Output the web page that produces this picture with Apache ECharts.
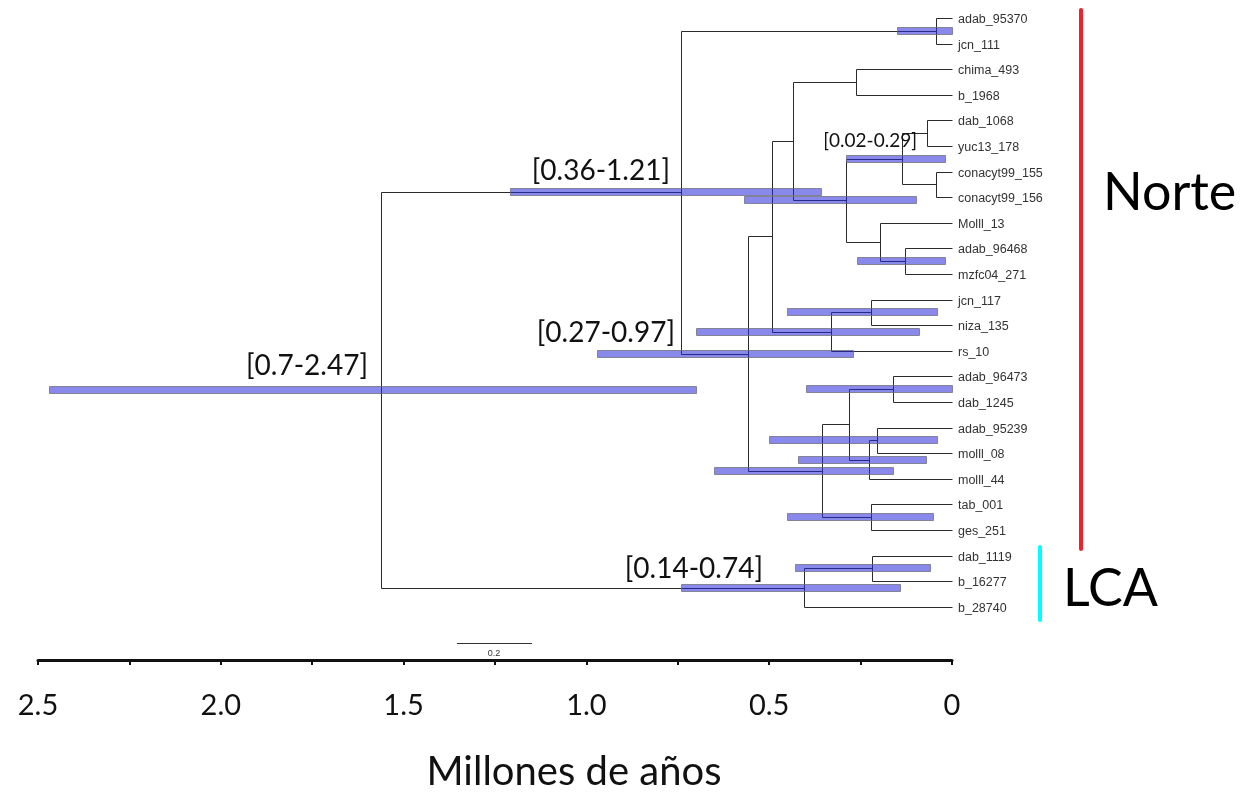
<!DOCTYPE html>
<html><head><meta charset="utf-8">
<script src="https://cdn.jsdelivr.net/npm/echarts@6/dist/echarts.min.js"></script>
<style>html,body{margin:0;padding:0;background:#fff}#c{width:1246px;height:793px}</style>
</head><body><div id="c"></div>
<script>
// ---- DATA ----
const tipNames = ['adab_95370','jcn_111','chima_493','b_1968','dab_1068','yuc13_178','conacyt99_155','conacyt99_156','Molll_13','adab_96468','mzfc04_271','jcn_117','niza_135','rs_10','adab_96473','dab_1245','adab_95239','molll_08','molll_44','tab_001','ges_251','dab_1119','b_16277','b_28740'];
// internal nodes: id, first child, second child, age (millions of years)
const nodeIds    = ['root','nB','nA','nC','nD','nH','nI','nJ','nK','nM','nN','nL','nO','nF','nG','nE','nP','nR','nS','nT','nQ','nU','nV'];
const nodeChild1 = ['nB','nA','adab_95370','nD','nH','nI','chima_493','nK','nM','dab_1068','conacyt99_155','Molll_13','adab_96468','nG','jcn_117','nP','nR','adab_96473','nT','adab_95239','tab_001','nV','dab_1119'];
const nodeChild2 = ['nU','nC','jcn_111','nE','nF','nJ','b_1968','nL','nN','yuc13_178','conacyt99_156','nO','mzfc04_271','rs_10','niza_135','nQ','nS','dab_1245','molll_44','molll_08','ges_251','b_28740','b_16277'];
const nodeAges   = [1.562,0.741,0.045,0.558,0.492,0.435,0.263,0.290,0.137,0.069,0.045,0.197,0.129,0.331,0.222,0.356,0.282,0.161,0.227,0.205,0.222,0.405,0.219];
// 95% HPD intervals
const hpdNodes = ['root','nB','nC','nK','nU','nA','nJ','nO','nG','nF','nR','nT','nS','nE','nQ','nV'];
const hpdLow   = [0.7, 0.36,0.27,0.02,0.14,0.00,0.10,0.02,0.04,0.09,0.00,0.04,0.07,0.16,0.05,0.06];
const hpdHigh  = [2.47,1.21,0.97,0.29,0.74,0.15,0.57,0.26,0.45,0.70,0.40,0.50,0.42,0.65,0.45,0.43];
const hpdLabelled = ['root','nB','nC','nK','nU'];
const xTicks = [0, 0.5, 1.0, 1.5, 2.0, 2.5];
const axisTitle = 'Millones de años';
const groupNames = ['Norte', 'LCA'];
const scaleBarLabel = '0.2';

// ---- derive tree geometry ----
const age = {}, ypos = {};
tipNames.forEach((t, i) => { age[t] = 0; ypos[t] = i; });
nodeIds.forEach((n, i) => { age[n] = nodeAges[i]; });
function yOf(id) {
  if (ypos[id] !== undefined) return ypos[id];
  const i = nodeIds.indexOf(id);
  ypos[id] = (yOf(nodeChild1[i]) + yOf(nodeChild2[i])) / 2;
  return ypos[id];
}
nodeIds.forEach(yOf);
const edges = [];
nodeIds.forEach((n, i) => {
  const a = nodeAges[i], c1 = nodeChild1[i], c2 = nodeChild2[i];
  edges.push([a, ypos[c1], a, ypos[c2]]);
  edges.push([a, ypos[c1], age[c1], ypos[c1]]);
  edges.push([a, ypos[c2], age[c2], ypos[c2]]);
});
const bars = hpdNodes.map((n, i) => [hpdLow[i], hpdHigh[i], ypos[n]]);
const tipData = tipNames.map((t, i) => [0, i, t]);

const chart = echarts.init(document.getElementById('c'));
const FONT = 'Lato, "Open Sans", sans-serif';

const hpdLabelPos = { root: [368, 366, 28], nB: [670, 171, 28], nC: [675, 333, 28], nK: [917, 141, 19], nU: [763, 569, 28] };
const graphics = [];
hpdLabelled.forEach(n => {
  const i = hpdNodes.indexOf(n);
  const p = hpdLabelPos[n];
  graphics.push({ type: 'text', x: p[0], y: p[1], z: 10,
    style: { text: '[' + hpdLow[i] + '-' + hpdHigh[i] + ']', fill: '#111', font: p[2] + 'px ' + FONT, textAlign: 'right', textVerticalAlign: 'middle' } });
});
graphics.push({ type: 'line', shape: { x1: 1081, y1: 10, x2: 1081, y2: 549 }, style: { stroke: '#ee2229', lineWidth: 4, lineCap: 'round' } });
graphics.push({ type: 'line', shape: { x1: 1040, y1: 547, x2: 1040, y2: 620 }, style: { stroke: '#00ffff', lineWidth: 4, lineCap: 'round' } });
graphics.push({ type: 'text', x: 1103, y: 193, style: { text: groupNames[0], fill: '#000', font: '52px ' + FONT, textAlign: 'left', textVerticalAlign: 'middle' } });
graphics.push({ type: 'text', x: 1063, y: 589, style: { text: groupNames[1], fill: '#000', font: '52px ' + FONT, textAlign: 'left', textVerticalAlign: 'middle' } });
graphics.push({ type: 'line', shape: { x1: 457, y1: 643.5, x2: 532, y2: 643.5 }, style: { stroke: '#333', lineWidth: 1 } });
graphics.push({ type: 'text', x: 494, y: 654, style: { text: scaleBarLabel, fill: '#333', font: '9px "Liberation Sans", sans-serif', textAlign: 'center', textVerticalAlign: 'middle' } });
graphics.push({ type: 'text', x: 574, y: 772, style: { text: axisTitle, fill: '#111', font: '40px ' + FONT, textAlign: 'center', textVerticalAlign: 'middle' } });

chart.setOption({
  animation: false,
  backgroundColor: '#fff',
  grid: { left: 38, right: 294, top: 18, bottom: 133, containLabel: false },
  xAxis: {
    type: 'value', min: 0, max: 2.5, interval: 0.5, inverse: true,
    axisLine: { show: true, onZero: false, lineStyle: { color: '#111', width: 3 } },
    axisTick: { show: true, inside: false, length: 5, lineStyle: { color: '#111', width: 2 } },
    minorTick: { show: true, splitNumber: 2, length: 5, lineStyle: { color: '#111', width: 2 } },
    splitLine: { show: false },
    axisLabel: { fontSize: 29, fontFamily: FONT, color: '#111', margin: 31,
      formatter: v => (xTicks.indexOf(v) < 0 ? '' : (v === 0 ? '0' : v.toFixed(1))) }
  },
  yAxis: { type: 'value', min: 0, max: 25.08, inverse: true, show: false, splitLine: { show: false } },
  graphic: graphics,
  series: [
    { type: 'custom', z: 2, clip: false, data: edges, encode: { x: [0, 2], y: [1, 3] },
      renderItem: (params, api) => {
        const p1 = api.coord([api.value(0), api.value(1)]);
        const p2 = api.coord([api.value(2), api.value(3)]);
        const r = v => Math.round(v) + 0.5;
        return { type: 'line', shape: { x1: r(p1[0]), y1: r(p1[1]), x2: r(p2[0]), y2: r(p2[1]) },
          style: { stroke: '#2b2b2b', lineWidth: 1 } };
      } },
    { type: 'custom', z: 3, clip: false, data: bars, encode: { x: [0, 1], y: 2 },
      renderItem: (params, api) => {
        const a = api.coord([api.value(0), api.value(2)]);
        const b = api.coord([api.value(1), api.value(2)]);
        const x = Math.round(Math.min(a[0], b[0])) + 0.5;
        const w = Math.round(Math.abs(a[0] - b[0]));
        return { type: 'rect', shape: { x: x, y: Math.round(a[1]) - 3.5, width: w, height: 7 },
          style: { fill: 'rgba(40,40,220,0.55)', stroke: 'rgba(110,110,120,0.75)', lineWidth: 1 } };
      } },
    { type: 'custom', z: 4, clip: false, data: tipData, encode: { x: 0, y: 1 },
      renderItem: (params, api) => {
        const p = api.coord([api.value(0), api.value(1)]);
        return { type: 'text', x: p[0] + 6, y: p[1] + 1.5,
          style: { text: tipNames[params.dataIndex], fill: '#333', font: '12.5px "Liberation Sans", Arial, sans-serif', textAlign: 'left', textVerticalAlign: 'middle' } };
      } }
  ]
});
</script>
</body></html>
